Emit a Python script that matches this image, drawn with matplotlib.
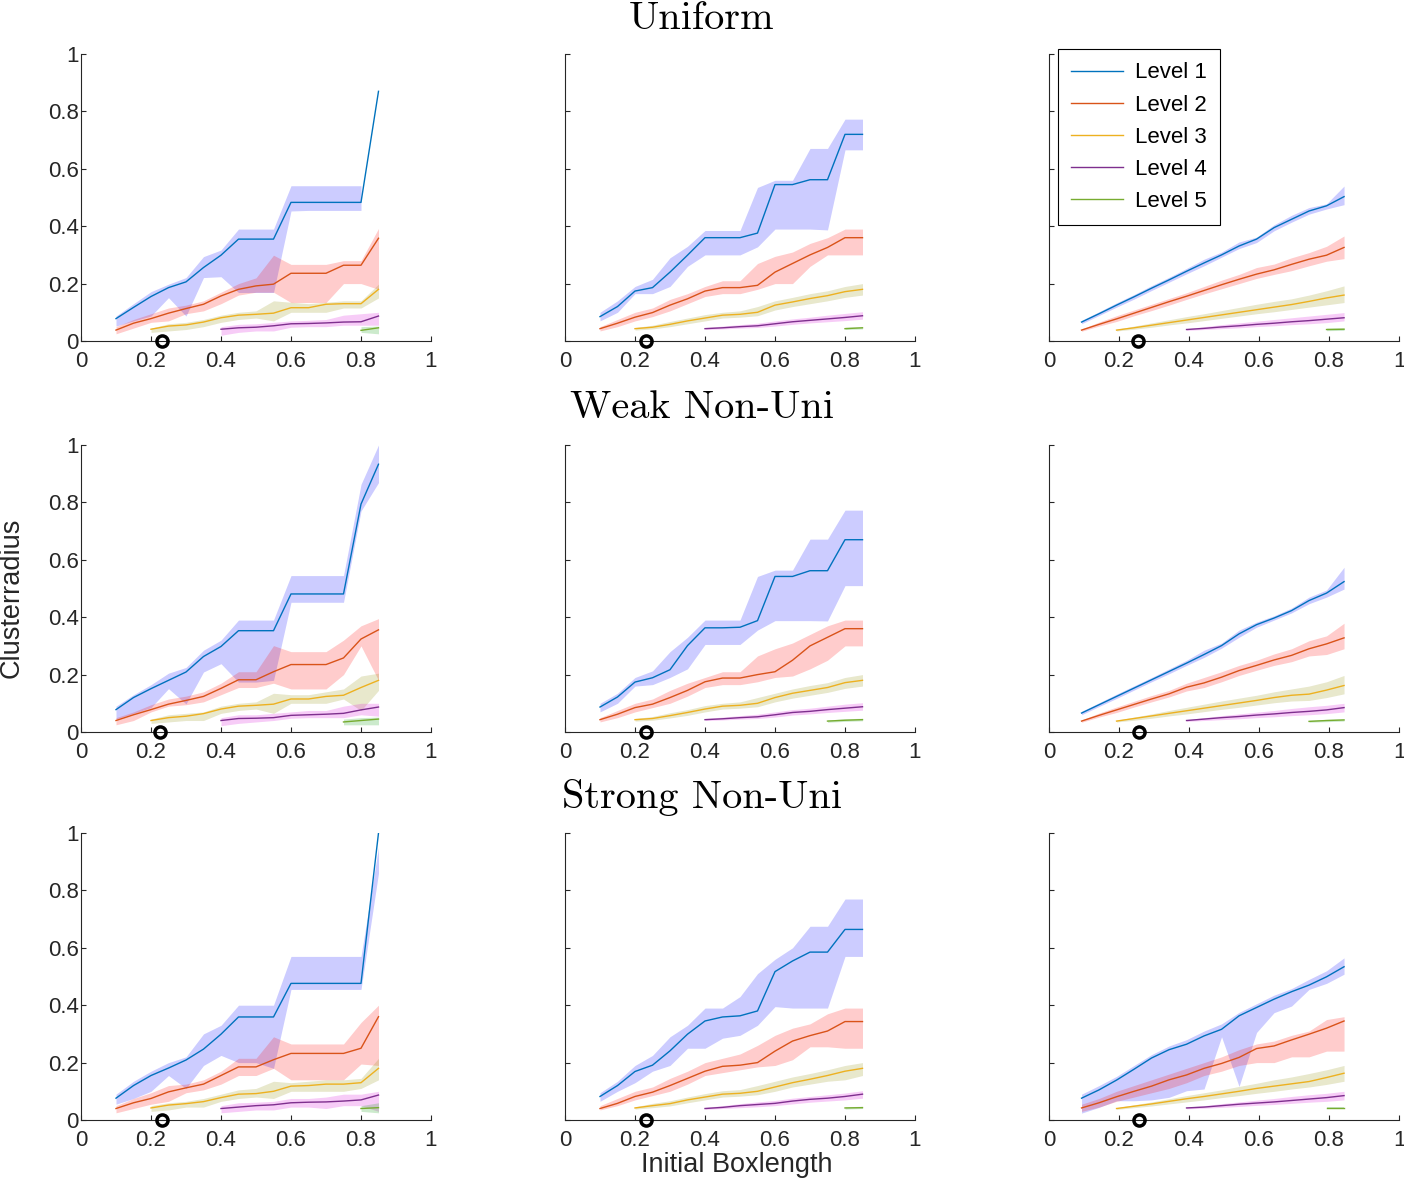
import numpy as np
import matplotlib
matplotlib.use("Agg")
import matplotlib.pyplot as plt
from matplotlib.lines import Line2D

nan = np.nan

# ---------------- data ----------------
X_AB = [0.10, 0.15, 0.20, 0.25, 0.30, 0.35, 0.40, 0.45, 0.50, 0.55, 0.60, 0.65, 0.70, 0.75, 0.80, 0.85]
X_C = [0.093, 0.143, 0.193, 0.243, 0.293, 0.343, 0.393, 0.443, 0.493, 0.543, 0.593, 0.643, 0.693, 0.743, 0.793, 0.843]

LEVELS = ["Level 1", "Level 2", "Level 3", "Level 4", "Level 5"]
ROW_TITLES = ["Uniform", "Weak Non-Uni", "Strong Non-Uni"]
TICKS = [0, 0.2, 0.4, 0.6, 0.8, 1]
TICK_LABELS = ["0", "0.2", "0.4", "0.6", "0.8", "1"]
START_MARK_X = [[0.230, 0.230, 0.253], [0.227, 0.230, 0.257], [0.231, 0.230, 0.258]]

# Uniform, column 1
U1_MEAN = [[0.078,0.117,0.155,0.186,0.206,0.256,0.299,0.355,0.355,0.355,0.483,0.483,0.483,0.483,0.483,0.870],
           [0.038,0.062,0.078,0.097,0.113,0.128,0.157,0.180,0.192,0.198,0.236,0.236,0.236,0.264,0.264,0.358],
           [0.041,0.052,0.056,0.066,0.081,0.090,0.093,0.097,0.116,0.116,0.128,0.130,0.130,0.180],
           [0.041,0.046,0.048,0.053,0.060,0.061,0.063,0.066,0.067,0.087],
           [0.037,0.046]]
U1_HI = [[0.087,0.130,0.172,0.198,0.221,0.294,0.317,0.390,0.390,0.390,0.541,0.541,0.541,0.541,0.541,nan],
         [0.050,0.075,0.095,0.115,0.125,0.140,0.170,0.200,0.220,0.299,0.267,0.267,0.267,0.280,0.280,0.392],
         [0.045,0.060,0.065,0.075,0.090,0.100,0.105,0.140,0.135,0.130,0.135,0.140,0.140,0.198],
         [0.050,0.058,0.060,0.065,0.070,0.072,0.075,0.090,0.095,0.100],
         [0.050,0.052]]
U1_LO = [[0.052,0.070,0.087,0.151,0.087,0.221,0.224,0.169,0.169,0.169,0.453,0.455,0.455,0.455,0.455,nan],
         [0.025,0.045,0.065,0.070,0.095,0.105,0.130,0.160,0.170,0.170,0.134,0.134,0.134,0.200,0.200,0.180],
         [0.030,0.035,0.040,0.050,0.065,0.075,0.080,0.070,0.100,0.100,0.100,0.115,0.115,0.150],
         [0.020,0.030,0.035,0.035,0.048,0.050,0.050,0.055,0.055,0.055],
         [0.030,0.025]]

# Uniform, column 2
U2_MEAN = [[0.085,0.120,0.174,0.186,0.240,0.299,0.360,0.360,0.360,0.376,0.545,0.545,0.562,0.562,0.720,0.720],
           [0.043,0.062,0.083,0.099,0.125,0.147,0.174,0.186,0.186,0.194,0.240,0.270,0.300,0.326,0.360,0.360],
           [0.043,0.048,0.058,0.070,0.080,0.090,0.093,0.100,0.125,0.136,0.148,0.158,0.172,0.180],
           [0.043,0.046,0.050,0.053,0.060,0.067,0.072,0.077,0.082,0.088],
           [0.043,0.046]]
U2_HI = [[0.100,0.140,0.190,0.215,0.290,0.330,0.385,0.385,0.385,0.535,0.560,0.560,0.671,0.671,0.773,0.773],
         [0.050,0.075,0.100,0.115,0.145,0.165,0.190,0.210,0.210,0.270,0.295,0.310,0.340,0.360,0.390,0.390],
         [0.047,0.055,0.068,0.080,0.092,0.100,0.105,0.120,0.140,0.152,0.165,0.175,0.190,0.200],
         [0.047,0.052,0.057,0.062,0.070,0.077,0.083,0.090,0.096,0.102],
         [0.048,0.050]]
U2_LO = [[0.070,0.100,0.165,0.165,0.190,0.260,0.300,0.300,0.300,0.328,0.390,0.390,0.390,0.387,0.666,0.666],
         [0.035,0.050,0.070,0.085,0.105,0.130,0.155,0.165,0.165,0.180,0.200,0.200,0.260,0.300,0.300,0.300],
         [0.038,0.042,0.050,0.060,0.070,0.080,0.083,0.088,0.108,0.120,0.130,0.140,0.152,0.160],
         [0.040,0.042,0.045,0.047,0.052,0.058,0.063,0.067,0.071,0.076],
         [0.040,0.042]]

# Uniform, column 3
U3_MEAN = [[0.066,0.095,0.125,0.154,0.184,0.213,0.243,0.272,0.300,0.331,0.355,0.395,0.424,0.453,0.471,0.503],
           [0.038,0.058,0.077,0.097,0.117,0.137,0.156,0.176,0.196,0.215,0.233,0.248,0.267,0.285,0.299,0.326],
           [0.038,0.046,0.055,0.064,0.073,0.082,0.091,0.100,0.109,0.118,0.127,0.138,0.150,0.160],
           [0.040,0.044,0.049,0.053,0.058,0.062,0.067,0.071,0.076,0.081],
           [0.040,0.041]]
U3_HI = [[0.072,0.102,0.133,0.162,0.193,0.222,0.253,0.285,0.310,0.345,0.362,0.405,0.438,0.465,0.478,0.540],
         [0.042,0.066,0.088,0.108,0.128,0.148,0.168,0.190,0.212,0.232,0.256,0.268,0.290,0.308,0.330,0.366],
         [0.041,0.052,0.063,0.074,0.085,0.095,0.106,0.117,0.128,0.138,0.147,0.160,0.175,0.192],
         [0.043,0.050,0.057,0.063,0.069,0.075,0.081,0.087,0.093,0.099],
         [0.045,0.046]]
U3_LO = [[0.060,0.089,0.118,0.146,0.176,0.205,0.234,0.262,0.292,0.322,0.343,0.384,0.414,0.442,0.460,0.475],
         [0.034,0.052,0.068,0.088,0.106,0.125,0.145,0.164,0.182,0.200,0.218,0.232,0.245,0.262,0.278,0.287],
         [0.035,0.041,0.048,0.056,0.063,0.071,0.079,0.087,0.095,0.102,0.110,0.118,0.126,0.134],
         [0.037,0.040,0.043,0.046,0.050,0.053,0.057,0.060,0.064,0.070],
         [0.036,0.037]]

# Weak non-uniform, column 1
W1_MEAN = [[0.078,0.120,0.151,0.180,0.209,0.263,0.298,0.353,0.353,0.353,0.481,0.481,0.481,0.481,0.794,0.933],
           [0.040,0.060,0.078,0.097,0.110,0.124,0.152,0.182,0.182,0.210,0.235,0.235,0.235,0.258,0.324,0.356],
           [0.040,0.050,0.055,0.064,0.080,0.090,0.093,0.097,0.115,0.115,0.124,0.128,0.155,0.180],
           [0.040,0.047,0.048,0.050,0.058,0.060,0.062,0.065,0.077,0.087],
           [0.035,0.040,0.045]]
W1_HI = [[0.090,0.130,0.165,0.205,0.225,0.285,0.320,0.390,0.390,0.390,0.545,0.545,0.545,0.545,0.863,1.000],
         [0.050,0.070,0.095,0.115,0.125,0.140,0.170,0.210,0.210,0.301,0.280,0.280,0.280,0.320,0.370,0.395],
         [0.045,0.060,0.065,0.070,0.090,0.100,0.105,0.135,0.130,0.130,0.140,0.150,0.195,0.205],
         [0.050,0.060,0.060,0.065,0.070,0.075,0.075,0.090,0.100,0.100],
         [0.045,0.050,0.052]]
W1_LO = [[0.045,0.065,0.085,0.151,0.098,0.209,0.238,0.174,0.174,0.180,0.452,0.452,0.452,0.452,0.770,0.869],
         [0.025,0.040,0.070,0.090,0.095,0.105,0.130,0.155,0.155,0.170,0.150,0.150,0.150,0.200,0.300,0.180],
         [0.030,0.035,0.040,0.040,0.065,0.075,0.080,0.065,0.100,0.100,0.100,0.115,0.075,0.145],
         [0.022,0.030,0.035,0.040,0.048,0.050,0.050,0.050,0.060,0.055],
         [0.025,0.025,0.025]]

# Weak non-uniform, column 2
W2_MEAN = [[0.087,0.122,0.174,0.189,0.217,0.301,0.363,0.363,0.365,0.388,0.542,0.542,0.562,0.562,0.670,0.670],
           [0.043,0.062,0.085,0.097,0.120,0.145,0.175,0.188,0.188,0.200,0.210,0.250,0.300,0.330,0.360,0.360],
           [0.043,0.047,0.057,0.068,0.080,0.090,0.093,0.100,0.120,0.135,0.145,0.155,0.172,0.180],
           [0.043,0.046,0.050,0.053,0.060,0.068,0.072,0.078,0.083,0.088],
           [0.038,0.041,0.043]]
W2_HI = [[0.100,0.135,0.190,0.213,0.280,0.330,0.390,0.390,0.390,0.542,0.564,0.564,0.672,0.672,0.773,0.773],
         [0.050,0.075,0.100,0.115,0.145,0.170,0.190,0.210,0.210,0.265,0.290,0.310,0.340,0.370,0.390,0.390],
         [0.047,0.054,0.067,0.078,0.092,0.100,0.105,0.120,0.135,0.150,0.162,0.172,0.190,0.200],
         [0.047,0.052,0.057,0.062,0.070,0.078,0.083,0.090,0.097,0.102],
         [0.042,0.046,0.048]]
W2_LO = [[0.070,0.100,0.160,0.165,0.190,0.220,0.305,0.305,0.305,0.355,0.388,0.388,0.388,0.387,0.510,0.510],
         [0.035,0.050,0.070,0.085,0.100,0.125,0.155,0.165,0.165,0.175,0.190,0.195,0.220,0.250,0.300,0.300],
         [0.038,0.041,0.049,0.058,0.070,0.080,0.083,0.088,0.105,0.118,0.128,0.138,0.152,0.160],
         [0.040,0.042,0.045,0.047,0.052,0.059,0.063,0.068,0.072,0.076],
         [0.034,0.037,0.039]]

# Weak non-uniform, column 3
W3_MEAN = [[0.066,0.095,0.124,0.153,0.182,0.211,0.240,0.270,0.301,0.342,0.374,0.397,0.423,0.458,0.484,0.524],
           [0.038,0.058,0.077,0.096,0.115,0.133,0.156,0.171,0.191,0.214,0.232,0.251,0.267,0.290,0.307,0.328],
           [0.038,0.047,0.056,0.065,0.074,0.083,0.092,0.101,0.110,0.120,0.128,0.132,0.146,0.162],
           [0.040,0.045,0.050,0.054,0.059,0.063,0.068,0.072,0.077,0.085],
           [0.037,0.040,0.042]]
W3_HI = [[0.072,0.102,0.132,0.161,0.190,0.220,0.250,0.285,0.310,0.355,0.383,0.405,0.432,0.470,0.495,0.574],
         [0.042,0.066,0.087,0.107,0.127,0.145,0.170,0.190,0.210,0.232,0.250,0.272,0.290,0.318,0.335,0.379],
         [0.041,0.052,0.063,0.075,0.086,0.097,0.108,0.118,0.128,0.140,0.150,0.160,0.175,0.197],
         [0.043,0.050,0.057,0.063,0.069,0.075,0.082,0.088,0.093,0.100],
         [0.041,0.044,0.046]]
W3_LO = [[0.060,0.089,0.117,0.146,0.175,0.203,0.232,0.260,0.292,0.330,0.365,0.390,0.415,0.447,0.470,0.498],
         [0.034,0.052,0.068,0.087,0.105,0.122,0.143,0.155,0.175,0.197,0.215,0.232,0.245,0.265,0.270,0.290],
         [0.035,0.041,0.048,0.056,0.063,0.071,0.079,0.086,0.094,0.102,0.108,0.110,0.120,0.133],
         [0.037,0.040,0.043,0.046,0.050,0.053,0.057,0.060,0.064,0.070],
         [0.034,0.036,0.038]]

# Strong non-uniform, column 1
S1_MEAN = [[0.076,0.120,0.155,0.181,0.209,0.247,0.299,0.359,0.359,0.359,0.476,0.476,0.476,0.476,0.476,1.000],
           [0.040,0.060,0.075,0.098,0.112,0.125,0.155,0.185,0.185,0.210,0.232,0.232,0.232,0.232,0.250,0.360],
           [0.042,0.052,0.057,0.064,0.078,0.090,0.092,0.100,0.118,0.120,0.125,0.125,0.130,0.180],
           [0.040,0.045,0.050,0.053,0.060,0.062,0.063,0.066,0.070,0.087],
           [0.040,0.043]]
S1_HI = [[0.090,0.135,0.170,0.200,0.220,0.300,0.330,0.400,0.400,0.400,0.570,0.570,0.570,0.570,0.570,0.950],
         [0.050,0.075,0.095,0.120,0.125,0.140,0.170,0.215,0.215,0.290,0.265,0.265,0.265,0.265,0.340,0.400],
         [0.050,0.060,0.065,0.075,0.090,0.105,0.110,0.135,0.130,0.135,0.140,0.140,0.145,0.215],
         [0.050,0.060,0.062,0.065,0.075,0.075,0.080,0.090,0.090,0.100],
         [0.050,0.060]]
S1_LO = [[0.055,0.075,0.100,0.155,0.110,0.190,0.225,0.200,0.200,0.180,0.455,0.455,0.455,0.455,0.455,0.860],
         [0.025,0.040,0.055,0.065,0.095,0.105,0.125,0.155,0.155,0.180,0.140,0.140,0.140,0.140,0.195,0.190],
         [0.030,0.035,0.045,0.045,0.065,0.075,0.080,0.075,0.100,0.100,0.100,0.100,0.110,0.140],
         [0.025,0.030,0.035,0.035,0.045,0.045,0.040,0.050,0.050,0.030],
         [0.030,0.025]]

# Strong non-uniform, column 2
S2_MEAN = [[0.082,0.120,0.169,0.191,0.241,0.299,0.345,0.359,0.363,0.380,0.517,0.554,0.585,0.585,0.664,0.664],
           [0.040,0.058,0.082,0.097,0.120,0.145,0.170,0.187,0.191,0.200,0.240,0.275,0.294,0.310,0.343,0.343],
           [0.042,0.050,0.057,0.070,0.080,0.090,0.093,0.100,0.115,0.130,0.142,0.155,0.170,0.180],
           [0.040,0.044,0.050,0.054,0.058,0.066,0.072,0.076,0.082,0.090],
           [0.042,0.043]]
S2_HI = [[0.095,0.135,0.190,0.225,0.290,0.330,0.390,0.390,0.430,0.510,0.560,0.600,0.675,0.675,0.770,0.770],
         [0.050,0.075,0.100,0.115,0.145,0.170,0.200,0.215,0.230,0.260,0.295,0.320,0.335,0.370,0.390,0.390],
         [0.046,0.058,0.067,0.080,0.092,0.102,0.106,0.120,0.135,0.150,0.162,0.175,0.190,0.200],
         [0.044,0.050,0.057,0.063,0.068,0.076,0.082,0.088,0.094,0.102],
         [0.046,0.048]]
S2_LO = [[0.065,0.100,0.130,0.170,0.190,0.250,0.250,0.285,0.295,0.330,0.395,0.390,0.390,0.390,0.570,0.570],
         [0.035,0.050,0.070,0.085,0.100,0.125,0.155,0.165,0.175,0.185,0.190,0.210,0.255,0.255,0.250,0.250],
         [0.038,0.043,0.049,0.060,0.070,0.080,0.083,0.088,0.100,0.115,0.125,0.135,0.140,0.155],
         [0.037,0.040,0.043,0.046,0.050,0.056,0.062,0.066,0.070,0.076],
         [0.038,0.040]]

# Strong non-uniform, column 3
S3_MEAN = [[0.076,0.105,0.139,0.177,0.216,0.245,0.264,0.293,0.316,0.363,0.392,0.421,0.447,0.470,0.499,0.534],
           [0.042,0.060,0.081,0.100,0.118,0.140,0.157,0.180,0.197,0.218,0.249,0.258,0.279,0.299,0.320,0.345],
           [0.040,0.048,0.056,0.065,0.074,0.082,0.091,0.100,0.110,0.118,0.126,0.134,0.148,0.163],
           [0.042,0.045,0.050,0.055,0.059,0.063,0.068,0.073,0.078,0.085],
           [0.043,0.043]]
S3_HI = [[0.090,0.120,0.152,0.190,0.228,0.258,0.280,0.310,0.335,0.375,0.405,0.435,0.458,0.490,0.520,0.565],
         [0.055,0.075,0.100,0.120,0.140,0.160,0.180,0.200,0.220,0.245,0.265,0.275,0.295,0.310,0.350,0.360],
         [0.043,0.053,0.063,0.074,0.085,0.095,0.105,0.117,0.128,0.140,0.150,0.162,0.175,0.190],
         [0.045,0.050,0.057,0.063,0.069,0.075,0.082,0.088,0.093,0.100],
         [0.046,0.046]]
S3_LO = [[0.024,0.044,0.067,0.067,0.070,0.079,0.102,0.108,0.290,0.117,0.305,0.374,0.397,0.455,0.476,0.508],
         [0.030,0.045,0.065,0.080,0.095,0.110,0.130,0.155,0.170,0.190,0.200,0.200,0.220,0.220,0.240,0.240],
         [0.037,0.043,0.049,0.056,0.063,0.070,0.078,0.085,0.093,0.100,0.108,0.115,0.124,0.135],
         [0.039,0.041,0.044,0.047,0.051,0.054,0.058,0.062,0.065,0.070],
         [0.040,0.040]]

# ---------------- style ----------------
LINE_COLORS = ["#0072BD", "#D95319", "#EDB120", "#7E2F8E", "#77AC30"]
FILL_COLORS = [(0.0, 0.0, 1.0), (1.0, 0.0, 0.0), (0.55, 0.55, 0.0), (0.85, 0.0, 0.85), (0.0, 0.6, 0.0)]
FILL_ALPHA = 0.2

plt.rcParams['font.family'] = ['Liberation Sans', 'DejaVu Sans']
AX_COLOR = "#262626"

fig = plt.figure(figsize=(14.04, 11.82), dpi=100)
W, H = 1404.0, 1182.0

col_left_px = [81, 565, 1049]
col_width_px = [350, 350, 350]
row_bottom_px = [341, 732, 1120]
row_height_px = 287

panels = [
    [(U1_MEAN, U1_LO, U1_HI, X_AB), (U2_MEAN, U2_LO, U2_HI, X_AB), (U3_MEAN, U3_LO, U3_HI, X_C)],
    [(W1_MEAN, W1_LO, W1_HI, X_AB), (W2_MEAN, W2_LO, W2_HI, X_AB), (W3_MEAN, W3_LO, W3_HI, X_C)],
    [(S1_MEAN, S1_LO, S1_HI, X_AB), (S2_MEAN, S2_LO, S2_HI, X_AB), (S3_MEAN, S3_LO, S3_HI, X_C)],
]

for r in range(3):
    for c in range(3):
        ax = fig.add_axes([col_left_px[c] / W, 1 - row_bottom_px[r] / H,
                           col_width_px[c] / W, row_height_px / H])
        means, los, his, xs = panels[r][c]
        xs = np.array(xs)
        for k in range(5):
            m = np.array(means[k], dtype=float)
            x = xs[-len(m):]
            lo = np.array(los[k], dtype=float)
            hi = np.array(his[k], dtype=float)
            ax.fill_between(x, lo, hi, color=FILL_COLORS[k], alpha=FILL_ALPHA,
                            linewidth=0)
        for k in range(5):
            m = np.array(means[k], dtype=float)
            x = xs[-len(m):]
            ax.plot(x, m, color=LINE_COLORS[k], lw=1.0, label=LEVELS[k])
        ax.plot([START_MARK_X[r][c]], [0], marker='o', ms=8, mfc='none',
                mec='black', mew=2.5, clip_on=False, zorder=10)
        ax.set_xlim(0, 1)
        ax.set_ylim(0, 1)
        ax.set_xticks(TICKS)
        ax.set_xticklabels(TICK_LABELS)
        ax.set_yticks(TICKS)
        if c == 0:
            ax.set_yticklabels(TICK_LABELS)
        else:
            ax.set_yticklabels([])
        for s in ['top', 'right']:
            ax.spines[s].set_visible(False)
        for s in ['left', 'bottom']:
            ax.spines[s].set_color(AX_COLOR)
            ax.spines[s].set_linewidth(0.8)
        ax.tick_params(direction='in', length=3.5, width=0.8, colors=AX_COLOR,
                       labelsize=16, labelcolor=AX_COLOR)
        ax.tick_params(axis='x', pad=7.5)
        ax.tick_params(axis='y', pad=1.5)
        if r == 0 and c == 2:
            handles = [Line2D([0], [0], color=LINE_COLORS[k], lw=1.0) for k in range(5)]
            leg = ax.legend(handles, LEVELS, loc='upper left', bbox_to_anchor=(0.026, 1.017),
                            borderaxespad=0, fancybox=False, framealpha=1,
                            edgecolor='black', fontsize=16, handlelength=2.3,
                            handletextpad=0.55, labelspacing=0.5, borderpad=0.6)
            leg.get_frame().set_linewidth(0.8)

title_y_px = [19, 408, 797]
for r in range(3):
    fig.text(0.5, 1 - title_y_px[r] / H, ROW_TITLES[r], ha='center', va='center',
             fontsize=29, family='cmr10')

fig.text(12 / W, 1 - 598 / H, "Clusterradius", rotation=90, ha='center', va='center',
         fontsize=19.5, color=AX_COLOR)
fig.text(737 / W, 1 - 1165 / H, "Initial Boxlength", ha='center', va='center',
         fontsize=19.5, color=AX_COLOR)

fig.savefig("out.png", dpi=100)
